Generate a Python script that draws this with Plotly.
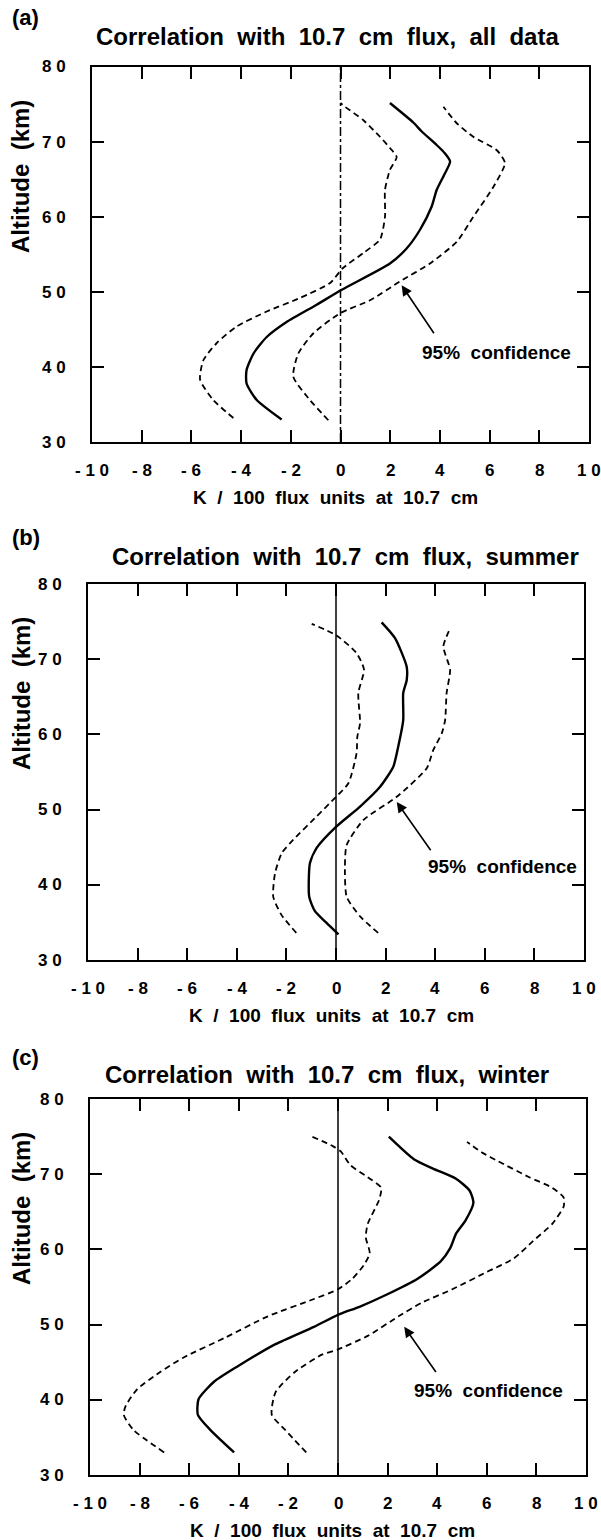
import plotly.graph_objects as go

W, H = 601, 1540

# ---------------- data ----------------
x_ticks = [-10, -8, -6, -4, -2, 0, 2, 4, 6, 8, 10]
x_ticktext = ["- 1 0", "- 8", "- 6", "- 4", "- 2", "0", "2", "4", "6", "8", "1 0"]
y_ticks = [30, 40, 50, 60, 70, 80]
y_ticktext = ["3 0", "4 0", "5 0", "6 0", "7 0", "8 0"]

panel_labels = ["(a)", "(b)", "(c)"]
panel_titles = [
    "Correlation  with  10.7  cm  flux,  all  data",
    "Correlation  with  10.7  cm  flux,  summer",
    "Correlation  with  10.7  cm  flux,  winter",
]
x_title = "K  /  100  flux  units  at  10.7  cm"
y_title = "Altitude  (km)"
conf_text = "95%  confidence"

# panel (a) all data
a_mean_alt = [33, 35.6, 37.8, 39.6, 41.8, 44.0, 46.0, 48.3, 50.3, 53.8, 55.8, 58.3, 61.4, 63.6, 65.8, 67.4, 68.5, 69.6, 71.4, 72.6, 75.2]
a_mean = [-2.37, -3.37, -3.78, -3.78, -3.5, -2.97, -2.17, -0.96, 0.05, 1.99, 2.66, 3.2, 3.67, 3.87, 4.2, 4.41, 4.2, 3.87, 3.27, 2.93, 1.99]
a_low_alt = [33.2, 35.6, 38.3, 40.9, 43.2, 45.4, 47.4, 49.2, 51.2, 53.2, 55.2, 57.0, 60.0, 63.6, 66.3, 68.0, 69.2, 70.7, 72.9, 74.7, 75.2]
a_low = [-4.31, -5.12, -5.65, -5.52, -4.98, -4.18, -2.97, -1.63, -0.42, 0.1, 0.92, 1.59, 1.79, 1.79, 1.99, 2.26, 1.99, 1.59, 0.92, 0.18, 0.0]
a_up_alt = [32.9, 35.6, 38.7, 41.8, 44.5, 47.2, 48.9, 51.4, 53.8, 56.7, 60.0, 64.0, 67.2, 68.9, 70.7, 72.5, 74.7]
a_up = [-0.49, -1.23, -1.9, -1.7, -1.09, 0.0, 1.19, 2.39, 3.6, 4.68, 5.34, 6.15, 6.62, 6.29, 5.34, 4.68, 4.14]

# panel (b) summer
b_mean_alt = [33.4, 35.0, 36.5, 38.4, 42.9, 44.9, 47.7, 50.4, 53.0, 55.7, 58.4, 61.9, 65.5, 67.2, 69.0, 72.8, 74.9]
b_mean = [0.1, -0.4, -0.85, -1.08, -1.05, -0.78, 0.0, 0.97, 1.77, 2.31, 2.51, 2.71, 2.71, 2.85, 2.85, 2.38, 1.84]
b_low_alt = [33.6, 36.0, 38.4, 41.5, 44.2, 46.0, 49.1, 51.7, 53.5, 57.5, 59.7, 61.5, 65.5, 68.6, 70.8, 73.2, 74.7]
b_low = [-1.6, -2.2, -2.53, -2.46, -2.19, -1.72, -0.78, 0.0, 0.5, 0.83, 0.86, 0.97, 0.9, 1.13, 0.83, 0.0, -0.98]
b_up_alt = [33.6, 35.8, 38.4, 42.4, 45.3, 48.6, 51.7, 55.5, 57.9, 60.1, 61.9, 65.5, 68.6, 71.7, 74.1]
b_up = [1.7, 0.97, 0.43, 0.36, 0.43, 1.1, 2.45, 3.66, 3.92, 4.26, 4.4, 4.46, 4.6, 4.33, 4.6]

# panel (c) winter
c_mean_alt = [33.0, 36.0, 38.0, 40.1, 42.4, 44.4, 47.4, 49.7, 51.3, 52.4, 54.0, 56.1, 58.4, 60.2, 62.1, 63.9, 66.2, 67.8, 69.4, 70.75, 72.0, 75.0]
c_mean = [-4.19, -5.15, -5.65, -5.62, -5.0, -4.07, -2.52, -0.97, 0.0, 0.89, 1.97, 3.21, 4.14, 4.53, 4.76, 5.15, 5.46, 5.31, 4.76, 3.83, 3.06, 2.05]
c_low_alt = [33.0, 36.0, 38.0, 39.2, 41.4, 43.7, 45.6, 48.3, 51.1, 53.4, 54.7, 56.1, 57.9, 59.5, 61.6, 63.4, 66.6, 68.2, 69.6, 71.2, 73.0, 73.7, 75.0]
c_low = [-7.01, -8.25, -8.64, -8.56, -8.1, -7.17, -6.24, -4.53, -2.83, -0.97, 0.0, 0.58, 1.04, 1.28, 1.12, 1.2, 1.66, 1.74, 1.2, 0.5, 0.12, -0.19, -1.05]
c_up_alt = [33.0, 36.0, 38.0, 41.0, 43.7, 46.0, 46.7, 48.5, 51.1, 52.9, 54.7, 57.0, 58.8, 61.1, 63.4, 65.7, 66.9, 68.2, 69.6, 71.7, 72.8, 74.3]
c_up = [-1.28, -2.13, -2.67, -2.52, -1.74, -0.65, 0.0, 1.2, 2.44, 3.37, 4.61, 6.0, 7.09, 7.86, 8.64, 9.1, 9.1, 8.64, 7.71, 6.47, 5.85, 5.2]

# arrow head / tail / label positions (data units) per panel
arrow_head = [(2.46, 50.9), (2.45, 51.0), (2.67, 49.7)]
arrow_tail = [(3.8, 44.3), (3.86, 44.4), (3.99, 43.5)]
conf_pos = [(6.29, 41.9), (6.73, 42.4), (6.08, 41.2)]

panels = [
    (a_mean_alt, a_mean, a_low_alt, a_low, a_up_alt, a_up),
    (b_mean_alt, b_mean, b_low_alt, b_low, b_up_alt, b_up),
    (c_mean_alt, c_mean, c_low_alt, c_low, c_up_alt, c_up),
]

# ---------------- layout geometry (pixels) ----------------
boxes = [  # left, right, top, bottom
    (92, 589, 67, 442),
    (88, 584, 584, 960),
    (90, 586, 1099, 1475),
]
title_y = [36, 556, 1074]
label_y = [18, 538, 1057]
zero_dash = ["dashdot", "solid", "solid"]

FONT = "Liberation Sans"

def px(x):
    return x / W

def py(y):
    return 1 - y / H

fig = go.Figure()
layout = dict(
    width=W, height=H, margin=dict(l=0, r=0, t=0, b=0, autoexpand=False),
    plot_bgcolor="white", showlegend=False,
)
annotations = []
shapes = []

frame = dict(showline=True, linecolor="black", linewidth=2, showgrid=False, zeroline=False)
tick_font = dict(size=17, family=FONT, color="black")

for i, (box, data) in enumerate(zip(boxes, panels)):
    l, r, t, b = box
    n = i + 1
    sfx = "" if n == 1 else str(n)
    xr, yr = f"x{sfx}", f"y{sfx}"
    layout[f"xaxis{sfx}"] = dict(
        domain=[px(l), px(r)], anchor=yr, range=[-10, 10],
        tickvals=x_ticks, showticklabels=False,
        ticks="inside", ticklen=12, tickwidth=2, tickcolor="black", mirror="ticks",
        **frame,
    )
    layout[f"yaxis{sfx}"] = dict(
        domain=[py(b), py(t)], anchor=xr, range=[30, 80],
        tickvals=y_ticks, showticklabels=False,
        ticks="inside", ticklen=12, tickwidth=2, tickcolor="black", mirror="ticks",
        **frame,
    )
    # tick labels, positioned through the axis scales
    for v, s in zip(x_ticks, x_ticktext):
        annotations.append(dict(
            xref=xr, yref="paper", x=v, y=py(b + 28), text=f"<b>{s}</b>",
            showarrow=False, xanchor="center", yanchor="middle", font=tick_font,
        ))
    for v, s in zip(y_ticks, y_ticktext):
        annotations.append(dict(
            xref="paper", yref=yr, x=px(l - 24), y=v, text=f"<b>{s}</b>",
            showarrow=False, xanchor="right", yanchor="middle", font=tick_font,
        ))
    m_alt, m_val, lo_alt, lo_val, up_alt, up_val = data
    for xs, ys, dash, w in [(m_val, m_alt, "solid", 2.4), (lo_val, lo_alt, "6px,4px", 1.8), (up_val, up_alt, "6px,4px", 1.8)]:
        fig.add_trace(go.Scatter(
            x=xs, y=ys, mode="lines", xaxis=xr, yaxis=yr,
            line=dict(color="black", width=w, dash=dash, shape="spline", smoothing=0.6),
            hoverinfo="skip",
        ))
    shapes.append(dict(
        type="line", xref=xr, yref=yr, x0=0, x1=0, y0=30, y1=80,
        line=dict(color="black", width=1.5, dash=zero_dash[i]),
    ))
    annotations.append(dict(
        xref=xr, yref=yr, axref=xr, ayref=yr,
        x=arrow_head[i][0], y=arrow_head[i][1], ax=arrow_tail[i][0], ay=arrow_tail[i][1],
        text="", showarrow=True, arrowhead=2, arrowsize=1.3, arrowwidth=1.6, arrowcolor="black",
    ))
    annotations.append(dict(
        xref=xr, yref=yr, x=conf_pos[i][0], y=conf_pos[i][1],
        text=f"<b>{conf_text}</b>", showarrow=False, xanchor="center", yanchor="middle",
        font=dict(size=19, family=FONT, color="black"),
    ))
    annotations.append(dict(
        xref="paper", yref="paper", x=px(327 if i != 1 else 345), y=py(title_y[i]),
        text=f"<b>{panel_titles[i]}</b>", showarrow=False, xanchor="center", yanchor="middle",
        font=dict(size=24, family=FONT, color="black"),
    ))
    annotations.append(dict(
        xref="paper", yref="paper", x=px(10), y=py(label_y[i]),
        text=f"<b>{panel_labels[i]}</b>", showarrow=False, xanchor="left", yanchor="middle",
        font=dict(size=22, family=FONT, color="black"),
    ))
    annotations.append(dict(
        xref="paper", yref="paper", x=px((l + r) / 2 - 5), y=py(b + 55),
        text=f"<b>{x_title}</b>", showarrow=False, xanchor="center", yanchor="middle",
        font=dict(size=19, family=FONT, color="black"),
    ))
    annotations.append(dict(
        xref="paper", yref="paper", x=px(21), y=py(t + 110),
        text=f"<b>{y_title}</b>", showarrow=False, xanchor="center", yanchor="middle",
        textangle=-90, font=dict(size=24, family=FONT, color="black"),
    ))

layout["annotations"] = annotations
layout["shapes"] = shapes
fig.update_layout(**layout)
fig.write_html("out.html")
